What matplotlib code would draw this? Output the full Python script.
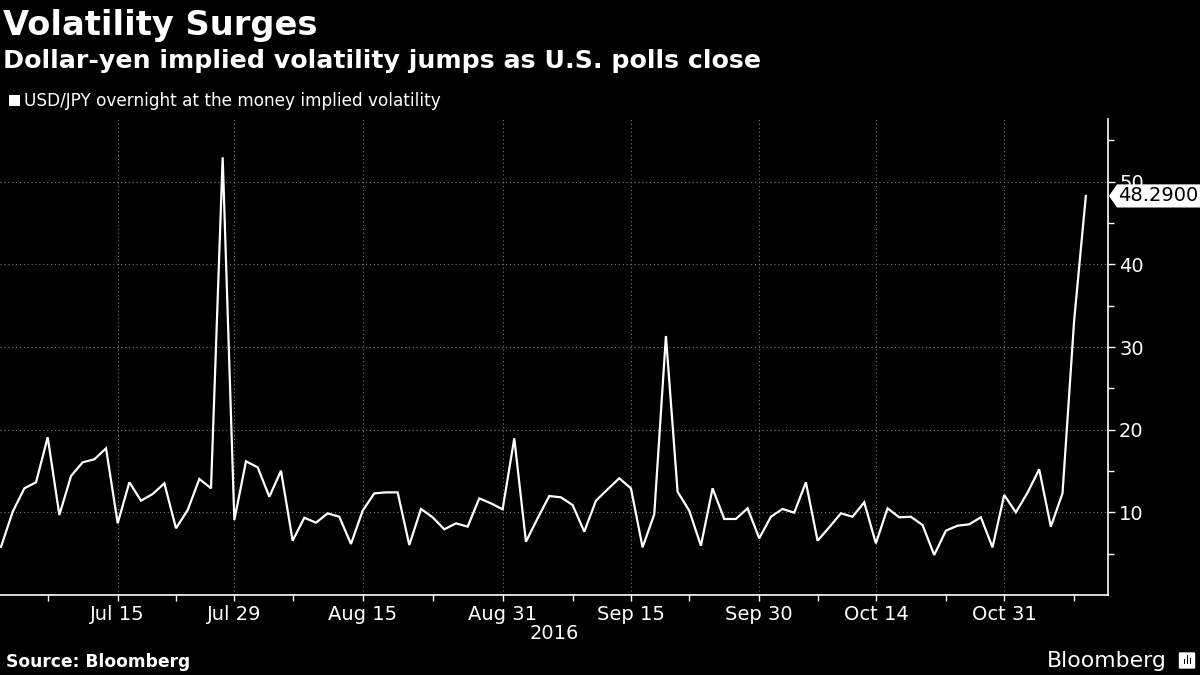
import matplotlib
matplotlib.use("Agg")
import matplotlib.pyplot as plt
import matplotlib.transforms as mtransforms
from matplotlib.patches import Polygon, FancyBboxPatch, Rectangle
import pandas as pd

# USD/JPY overnight ATM implied vol, business days Jul 1 - Nov 9 2016
dates = pd.bdate_range("2016-07-01", "2016-11-09")
vol = [5.84, 10.08, 12.91, 13.64, 19.08, 9.68, 14.40, 16.06, 16.42, 17.75,
       8.68, 13.64, 11.41, 12.22, 13.51, 8.07, 10.28, 14.04, 12.91, 52.96,
       9.07, 16.18, 15.45, 11.89, 15.04, 6.57, 9.35, 8.75, 9.88, 9.47,
       6.17, 10.20, 12.30, 12.42, 12.42, 6.05, 10.41, 9.40, 7.95, 8.67,
       8.27, 11.70, 11.09, 10.37, 18.96, 6.45, 9.28, 11.98, 11.82, 10.89,
       7.66, 11.41, 12.79, 14.12, 12.91, 5.77, 9.76, 31.34, 12.50, 10.20,
       5.97, 12.91, 9.20, 9.20, 10.49, 6.86, 9.47, 10.41, 9.96, 13.64,
       6.57, 8.19, 9.88, 9.47, 11.21, 6.25, 10.49, 9.40, 9.47, 8.47,
       4.84, 7.78, 8.39, 8.55, 9.40, 5.77, 12.10, 10.00, 12.38, 15.21,
       8.27, 12.30, 33.27, 48.29]
last_value = 48.29

major_dates = ["2016-07-15", "2016-07-29", "2016-08-15", "2016-08-31",
               "2016-09-15", "2016-09-30", "2016-10-14", "2016-10-31"]
major_labels = ["Jul 15", "Jul 29", "Aug 15", "Aug 31",
                "Sep 15", "Sep 30", "Oct 14", "Oct 31"]
minor_dates = ["2016-07-07", "2016-07-22", "2016-08-05", "2016-08-23",
               "2016-09-08", "2016-09-22", "2016-10-07", "2016-10-24", "2016-11-08"]
y_major = [10, 20, 30, 40, 50]
y_minor = [5, 15, 25, 35, 45, 55]

plt.rcParams["font.family"] = ["DejaVu Sans"]

fig = plt.figure(figsize=(12, 6.75), dpi=100, facecolor="black")
ax = fig.add_axes([0.0, 80 / 675, 1108 / 1200, 476 / 675])
ax.set_facecolor("black")

# business-day axis: plot against position index
pos = list(range(len(dates)))
idx = {d.strftime("%Y-%m-%d"): i for i, d in enumerate(dates)}
ax.plot(pos, vol, color="white", lw=1.6, solid_joinstyle="miter", zorder=3)

ax.set_xlim(-0.09, 94.9)
ax.set_ylim(0, 57.6)

ax.set_xticks([idx[d] for d in major_dates])
ax.set_xticklabels(major_labels)
ax.set_xticks([idx[d] for d in minor_dates], minor=True)
ax.yaxis.tick_right()
ax.set_yticks(y_major)
ax.set_yticks(y_minor, minor=True)

for s in ["left", "top"]:
    ax.spines[s].set_visible(False)
for s in ["bottom", "right"]:
    ax.spines[s].set_color("white")
    ax.spines[s].set_linewidth(1.2)

ax.tick_params(axis="x", which="both", colors="white", direction="out",
               length=4, width=1, labelsize=14, pad=3)
ax.tick_params(axis="y", which="major", colors="white", direction="out",
               length=5, width=1, labelsize=14, pad=3)
ax.tick_params(axis="y", which="minor", colors="white", direction="out",
               length=4, width=1)

ax.grid(True, which="major", color="#7a7a7a", lw=0.8, linestyle=(0, (1, 2.5)))

# year label under the axis
ax.text(0.5, -0.08, "2016", transform=ax.transAxes, ha="center", va="center",
        color="white", fontsize=14)

# last value tag on the right axis (covers the top of the "50" label, as in the original)
tr = mtransforms.blended_transform_factory(fig.transFigure, ax.transData)
tag = Polygon([(1109 / 1200, last_value), (1117 / 1200, last_value + 1.4),
               (1.0, last_value + 1.4), (1.0, last_value - 1.4),
               (1117 / 1200, last_value - 1.4)],
              closed=True, facecolor="white", edgecolor="none",
              transform=tr, clip_on=False, zorder=5)
fig.add_artist(tag)
fig.text(1118 / 1200, last_value, "%.4f" % last_value, transform=tr,
         ha="left", va="center", color="black", fontsize=14, zorder=6)

# titles
fig.text(3 / 1200, 1 - 35 / 675, "Volatility Surges", color="white",
         fontsize=24.2, fontweight="bold", va="baseline", ha="left")
fig.text(3 / 1200, 1 - 68 / 675,
         "Dollar-yen implied volatility jumps as U.S. polls close",
         color="white", fontsize=18.2, fontweight="bold", va="baseline", ha="left")

# legend
fig.add_artist(Rectangle((9 / 1200, 1 - 106 / 675), 11 / 1200, 11 / 675,
                         transform=fig.transFigure, facecolor="white",
                         edgecolor="none"))
fig.text(24 / 1200, 1 - 106 / 675,
         "USD/JPY overnight at the money implied volatility",
         color="white", fontsize=12.2, va="baseline", ha="left")

# footer
fig.text(6 / 1200, 1 - 667 / 675, "Source: Bloomberg", color="white",
         fontsize=12.3, fontweight="bold", va="baseline", ha="left")
fig.text(1167 / 1200, 1 - 667 / 675, "Bloomberg", color="white",
         fontsize=15.8, va="baseline", ha="right")
fig.add_artist(FancyBboxPatch((1180 / 1200, 1 - 668 / 675), 14 / 1200, 15 / 675,
                              boxstyle="round,pad=0.001", transform=fig.transFigure,
                              facecolor="white", edgecolor="none"))
for bx, bh in [(1183.5, 5), (1186.5, 9), (1189.5, 6)]:
    fig.add_artist(Rectangle((bx / 1200, 1 - 664 / 675), 1.8 / 1200, bh / 675,
                             transform=fig.transFigure, facecolor="black",
                             edgecolor="none"))

fig.savefig("out.png", dpi=100, facecolor="black")
